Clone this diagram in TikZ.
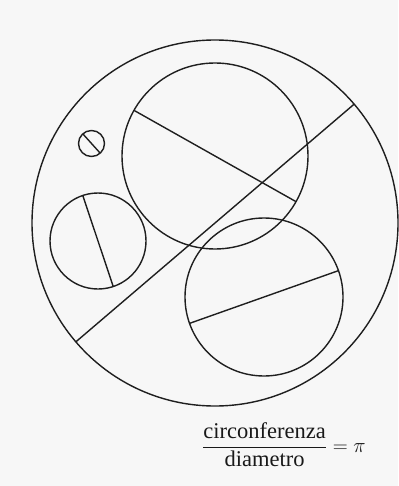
\documentclass[tikz,border=0pt]{standalone}
\usepackage{amsmath}
\usepackage{fontspec}
\setmainfont{Liberation Serif}
\begin{document}
\begin{tikzpicture}[x=1pt,y=-1pt,
  ring/.style={draw=black!88, line width=1.4pt},
  chord/.style={draw=black!88, line width=1.4pt}]
\fill[black!3] (0,0) rectangle (398,486);
\useasboundingbox (0,0) rectangle (398,486);
% centres
\coordinate (cB) at (215,223);
\coordinate (cT) at (215,156);
\coordinate (cL) at (98,241);
\coordinate (cR) at (264,297);
\coordinate (cS) at (91.5,143.5);
% circles
\draw[ring] (cB) circle[radius=183];
\draw[ring] (cT) circle[radius=93];
\draw[ring] (cL) circle[radius=48];
\draw[ring] (cR) circle[radius=79];
\draw[ring] (cS) circle[radius=13];
% diameter end points (y axis points down, so upward angles are negative)
\path (cB) ++(-40.5:183) coordinate (b1) (cB) ++(139.5:183) coordinate (b2);
\path (cT) ++(-150.6:93) coordinate (t1) (cT) ++(29.4:93) coordinate (t2);
\path (cL) ++(-108.5:48) coordinate (l1) (cL) ++(71.5:48) coordinate (l2);
\path (cR) ++(-19.5:79) coordinate (r1) (cR) ++(160.5:79) coordinate (r2);
\path (cS) ++(-132:13) coordinate (s1) (cS) ++(48:13) coordinate (s2);
\draw[chord] (b1) -- (b2);
\draw[chord] (t1) -- (t2);
\draw[chord] (l1) -- (l2);
\draw[chord] (r1) -- (r2);
\draw[chord] (s1) -- (s2);
% formula
\node[anchor=center, text=black!90, font=\fontsize{22.5}{27}\selectfont] (formula) at (284,445)
  {$\dfrac{\text{circonferenza}}{\text{diametro}} = \pi$};
\end{tikzpicture}
\end{document}
